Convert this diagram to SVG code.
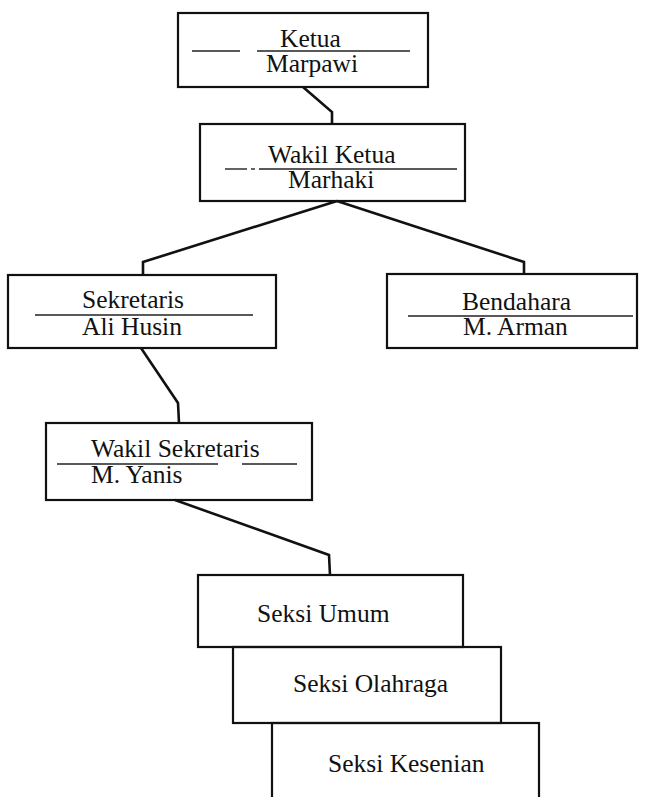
<svg xmlns="http://www.w3.org/2000/svg" width="647" height="797" viewBox="0 0 647 797">
  <style>
    .box { fill: none; stroke: #111; stroke-width: 2.2; }
    .rule { stroke: #222; stroke-width: 1.4; }
    .link { fill: none; stroke: #111; stroke-width: 2.6; stroke-linejoin: miter; }
    text { font-family: "Liberation Serif", "Times New Roman", serif; font-size: 25.5px; fill: #111; }
  </style>
  <rect width="647" height="797" fill="#fff"/>

  <g id="connectors">
    <path class="link" d="M303,87 L332,112 L332,124"/>
    <path class="link" d="M337,201 L143,262 L143,275"/>
    <path class="link" d="M337,201 L524,262 L524,274"/>
    <path class="link" d="M141,348 L178,403 L179,423"/>
    <path class="link" d="M175,500 L329,555 L330,575"/>
  </g>

  <g id="ketua">
    <rect class="box" x="178" y="13" width="250" height="74"/>
    <line class="rule" x1="192" y1="51" x2="240" y2="51"/>
    <line class="rule" x1="257" y1="51" x2="410" y2="51"/>
    <text x="280" y="47">Ketua</text>
    <text x="266" y="72">Marpawi</text>
  </g>

  <g id="wakil-ketua">
    <rect class="box" x="200" y="124" width="265" height="77"/>
    <line class="rule" x1="225" y1="169" x2="247" y2="169"/>
    <line class="rule" x1="251" y1="169" x2="255" y2="169"/>
    <line class="rule" x1="259" y1="169" x2="457" y2="169"/>
    <text x="268" y="163">Wakil Ketua</text>
    <text x="288" y="188">Marhaki</text>
  </g>

  <g id="sekretaris">
    <rect class="box" x="8" y="275" width="268" height="73"/>
    <line class="rule" x1="35" y1="315" x2="253" y2="315"/>
    <text x="82" y="308">Sekretaris</text>
    <text x="82" y="335">Ali Husin</text>
  </g>

  <g id="bendahara">
    <rect class="box" x="387" y="274" width="250" height="74"/>
    <line class="rule" x1="408" y1="316" x2="633" y2="316"/>
    <text x="462" y="310">Bendahara</text>
    <text x="463" y="335">M. Arman</text>
  </g>

  <g id="wakil-sekretaris">
    <rect class="box" x="46" y="423" width="266" height="77"/>
    <line class="rule" x1="57" y1="464" x2="218" y2="464"/>
    <line class="rule" x1="242" y1="464" x2="297" y2="464"/>
    <text x="91" y="457">Wakil Sekretaris</text>
    <text x="91" y="483">M. Yanis</text>
  </g>

  <g id="seksi-umum">
    <rect class="box" x="198" y="575" width="265" height="72"/>
    <text x="257" y="622">Seksi Umum</text>
  </g>

  <g id="seksi-olahraga">
    <rect class="box" x="233" y="647" width="268" height="76"/>
    <text x="293" y="692">Seksi Olahraga</text>
  </g>

  <g id="seksi-kesenian">
    <rect class="box" x="272" y="723" width="267" height="90"/>
    <text x="328" y="772">Seksi Kesenian</text>
  </g>
</svg>
